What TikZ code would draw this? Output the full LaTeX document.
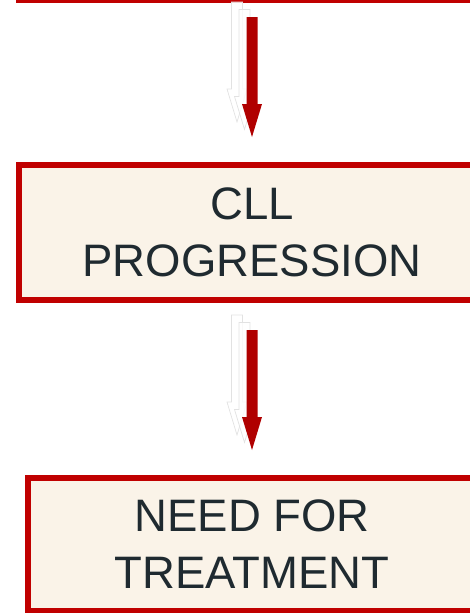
\documentclass[tikz,border=0pt]{standalone}
\usepackage{fontspec}
\setmainfont{Liberation Sans}
\usetikzlibrary{calc}

\definecolor{boxred}{RGB}{192,0,0}
\definecolor{arrowred}{RGB}{176,0,0}
\definecolor{boxfill}{RGB}{250,243,232}
\definecolor{inkdark}{RGB}{31,42,48}
\definecolor{ghostline}{RGB}{226,226,226}

% block arrow pointing down: #1 style, #2 start of shaft, #3 tip
\newcommand{\blockarr}[3]{%
  \path[#1] ($(#2)+(-5.5,0)$) -- ($(#3)+(-5.5,-33)$) -- ($(#3)+(-10,-33)$)
    -- (#3) -- ($(#3)+(10,-33)$) -- ($(#3)+(5.5,-33)$) -- ($(#2)+(5.5,0)$) -- cycle;}

\begin{document}
\begin{tikzpicture}[x=1pt,y=-1pt,
  stagebox/.style={draw=boxred, fill=boxfill, line width=6pt, inner sep=0pt,
    align=center, text=inkdark, font=\fontsize{45.5}{57}\selectfont},
  redarrow/.style={fill=arrowred},
  ghostarrow/.style={draw=ghostline, line width=0.7pt, fill=white, fill opacity=0.8}]
  \useasboundingbox (0,0) rectangle (470,613);
  \clip (0,0) rectangle (470,613);

  % stage boxes
  \node[stagebox, minimum width=466pt, minimum height=120pt] (top) at (252,-60) {};
  \node[stagebox, minimum width=466pt, minimum height=135pt] (cll) at (252,232.5) {CLL\\PROGRESSION};
  \node[stagebox, minimum width=448pt, minimum height=133pt] (need) at (252,544.5) {NEED FOR\\TREATMENT};

  % arrow end points
  \coordinate (a1s) at ($(top.south)+(0,14)$);
  \coordinate (a1e) at ($(cll.north)+(0,-25)$);
  \coordinate (a2s) at ($(cll.south)+(0,27)$);
  \coordinate (a2e) at ($(need.north)+(0,-25)$);

  % arrows with faint trailing copies
  \foreach \s/\e in {a1s/a1e, a2s/a2e} {
    \begin{scope}[transform canvas={xshift=-15pt, yshift=15pt}]
      \blockarr{ghostarrow}{\s}{\e}
    \end{scope}
    \begin{scope}[transform canvas={xshift=-7.5pt, yshift=7.5pt}]
      \blockarr{ghostarrow}{\s}{\e}
    \end{scope}
    \blockarr{redarrow}{\s}{\e}
  }
\end{tikzpicture}
\end{document}
